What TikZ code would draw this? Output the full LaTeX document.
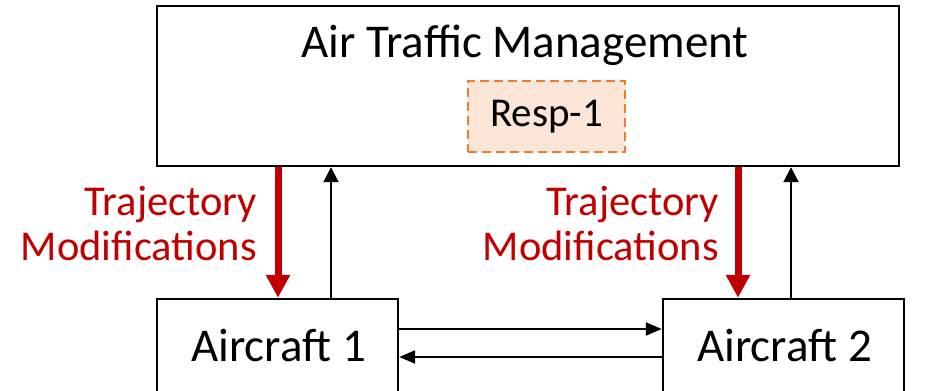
\documentclass[tikz,border=0pt]{standalone}
\usepackage{fontspec}
\setmainfont{Carlito}
\usetikzlibrary{arrows.meta}
\definecolor{darkred}{HTML}{C00000}
\definecolor{orangeline}{HTML}{ED7D31}
\definecolor{orangefill}{HTML}{FBE5D6}
\begin{document}
\begin{tikzpicture}[x=1pt,y=-1pt,
  box/.style={draw=black,line width=2.4pt,rectangle,inner sep=0pt},
  resp/.style={draw=orangeline,fill=orangefill,line width=2pt,dash pattern=on 9pt off 5pt,rectangle,inner sep=0pt,minimum width=157pt,minimum height=71pt,font=\fontsize{41}{44}\selectfont},
  bigtxt/.style={inner sep=0pt,font=\fontsize{47}{50}\selectfont},
  redtxt/.style={inner sep=0pt,text=darkred,font=\fontsize{42.5}{45}\selectfont,anchor=base east},
  redarrow/.style={draw=darkred,line width=7pt,-{Triangle[width=23pt,length=23pt,fill=darkred]}},
  blackarrow/.style={draw=black,line width=2pt,-{Triangle[width=15pt,length=15pt]}},
  smallarrow/.style={draw=black,line width=2.2pt,-{Triangle[width=13pt,length=16pt]}}
]
\useasboundingbox (0,0) rectangle (927,391);
\fill[white] (0,0) rectangle (927,391);
% boxes
\node[box,minimum width=742pt,minimum height=160pt] (atm) at (528,86) {};
\node[bigtxt,anchor=base] (title) at (525,57) {Air Traffic Management};
\node[resp] (resp) at (546.5,116.5) {Resp-1};
\node[box,minimum width=241pt,minimum height=98pt] (ac1) at (277.5,348) {};
\node[bigtxt,anchor=base] (ac1t) at (278.5,361) {Aircraft 1};
\node[box,minimum width=241pt,minimum height=98pt] (ac2) at (783.5,348) {};
\node[bigtxt,anchor=base] (ac2t) at (784.5,361) {Aircraft 2};
% x positions of vertical arrows
\coordinate (r1) at (278,0);
\coordinate (b1) at (331,0);
\coordinate (r2) at (738,0);
\coordinate (b2) at (791,0);
\coordinate (h1) at (0,329);
\coordinate (h2) at (0,357);
% arrows
\draw[redarrow] (r1 |- atm.south) -- (r1 |- ac1.north);
\draw[redarrow] (r2 |- atm.south) -- (r2 |- ac2.north);
\draw[blackarrow] (b1 |- ac1.north) -- (b1 |- atm.south);
\draw[blackarrow] (b2 |- ac2.north) -- (b2 |- atm.south);
\draw[smallarrow] (ac1.east |- h1) -- (ac2.west |- h1);
\draw[smallarrow] (ac2.west |- h2) -- (ac1.east |- h2);
% labels
\node[redtxt] (l1a) at (257,215) {Trajectory};
\node[redtxt] (l1b) at (257,260) {Modifications};
\node[redtxt] (l2a) at (719,215) {Trajectory};
\node[redtxt] (l2b) at (719,260) {Modifications};
\end{tikzpicture}
\end{document}
